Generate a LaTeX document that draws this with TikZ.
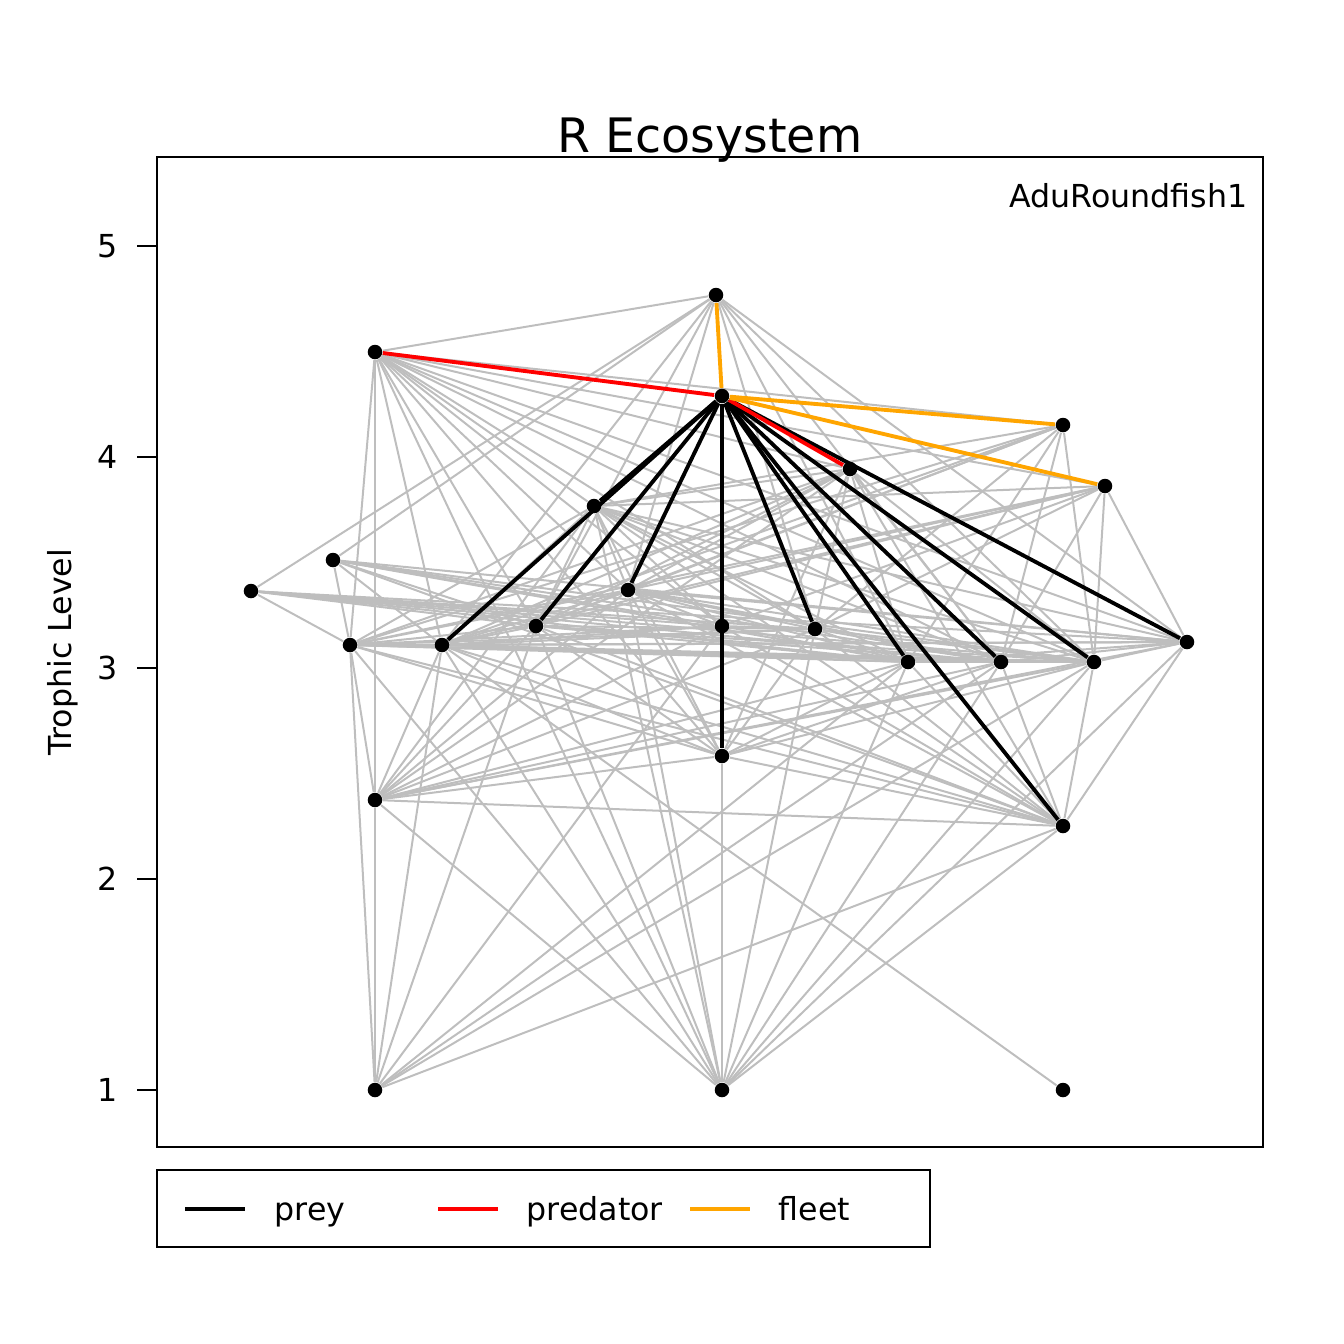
\documentclass[tikz,border=0pt]{standalone}
\usepackage{fontspec}
\setmainfont{DejaVu Sans}
\pgfdeclarelayer{bg}
\pgfsetlayers{bg,main}
\definecolor{rgray}{HTML}{BEBEBE}
\definecolor{rorange}{HTML}{FFA500}
\definecolor{rred}{HTML}{FF0000}
\tikzset{
  dot/.style={circle,fill=black,inner sep=0pt,minimum size=0.145cm},
  grayedge/.style={draw=rgray,line width=0.57pt},
  preyedge/.style={draw=black,line width=1.1pt},
  prededge/.style={draw=rred,line width=1.1pt},
  fleetedge/.style={draw=rorange,line width=1.1pt},
  frame/.style={draw=black,line width=0.6pt},
  lab/.style={font=\fontsize{9}{11}\selectfont,inner sep=0pt}
}
\begin{document}
\begin{tikzpicture}[x=0.01cm,y=-0.01cm]
\useasboundingbox (0,0) rectangle (1344,1344);
% nodes
\node[dot] (A) at (716,295) {};
\node[dot] (B) at (375,352) {};
\node[dot] (C) at (722,396) {};
\node[dot] (D) at (1063,425) {};
\node[dot] (E) at (850,469) {};
\node[dot] (F) at (1105,486) {};
\node[dot] (G) at (594,506) {};
\node[dot] (H) at (333,560) {};
\node[dot] (I) at (251,591) {};
\node[dot] (J) at (628,590) {};
\node[dot] (K) at (536,626) {};
\node[dot] (L) at (722,626) {};
\node[dot] (M) at (815,629) {};
\node[dot] (N) at (350,645) {};
\node[dot] (O) at (442,645) {};
\node[dot] (P) at (1187,642) {};
\node[dot] (Q) at (908,662) {};
\node[dot] (R) at (1001,662) {};
\node[dot] (S) at (1094,662) {};
\node[dot] (T) at (722,756) {};
\node[dot] (U) at (375,800) {};
\node[dot] (V) at (1063,826) {};
\node[dot] (W) at (375,1090) {};
\node[dot] (X) at (722,1090) {};
\node[dot] (Y) at (1063,1090) {};
\begin{pgfonlayer}{bg}
\foreach \a/\b in {A/B,A/I,A/H,A/O,A/K,A/J,A/M,A/Q,A/R,A/S,A/P,
  B/N,B/U,B/O,B/X,B/K,B/T,B/J,B/L,B/M,B/R,B/S,B/P,B/E,B/F,B/D,B/G,
  D/G,D/J,D/O,D/N,D/K,D/R,D/S,D/M,D/Q,
  F/G,F/J,F/K,F/O,F/N,F/L,F/M,F/P,F/S,F/R,
  E/G,E/J,E/K,E/O,E/N,E/M,E/Q,E/R,E/S,E/T,E/U,E/V,
  G/N,G/O,G/K,G/J,G/L,G/M,G/Q,G/R,G/S,G/P,G/T,G/U,G/V,G/X,
  H/N,H/O,H/K,H/L,H/Q,H/R,H/S,H/P,H/V,
  I/N,I/K,I/L,I/M,I/Q,I/R,I/S,I/P,
  J/O,J/N,J/K,J/L,J/M,J/Q,J/R,J/S,J/P,J/T,J/U,J/V,J/X,
  K/T,K/U,K/V,K/X,K/W,K/M,K/Q,K/R,K/S,K/N,K/O,
  L/T,L/U,L/V,L/W,L/M,L/Q,L/N,L/O,
  M/T,M/U,M/V,M/X,M/Q,M/R,M/S,M/N,M/O,
  N/O,N/Q,N/R,N/S,N/P,N/U,N/V,N/W,N/X,N/T,
  O/Q,O/R,O/S,O/P,O/U,O/V,O/W,O/X,O/Y,O/T,
  P/S,P/V,P/X,P/Q,P/R,P/U,
  Q/T,Q/U,Q/V,Q/W,Q/X,Q/R,Q/S,
  R/T,R/U,R/V,R/W,R/X,R/S,
  S/T,S/U,S/V,S/W,S/X,
  T/X,T/U,T/V,U/W,U/X,U/V,V/W,V/X}
  \draw[grayedge] (\a) -- (\b);
\foreach \b in {G,O,K,J,L,T,M,Q,R,S,V,P}
  \draw[preyedge] (C) -- (\b);
\draw[prededge] (B) -- (C);
\draw[prededge] (C) -- (E);
\draw[fleetedge] (A) -- (C);
\draw[fleetedge] (C) -- (D);
\draw[fleetedge] (C) -- (F);
\end{pgfonlayer}
% frame and axis
\draw[frame] (157,157) rectangle (1263,1147);
\foreach \v/\yy in {1/1090,2/879,3/668,4/457,5/246}{
  \draw[frame] (137,\yy) -- (157,\yy);
  \node[lab] (t\v) at (108,\yy) {\v};
}
\node[lab,rotate=90] (ylab) at (63,652) {Trophic Level};
\node[font=\fontsize{13.5}{16}\selectfont,inner sep=0pt,anchor=base] (title) at (710,152) {R Ecosystem};
\node[lab,anchor=base east] (focal) at (1248,207) {AduRoundfish1};
% legend
\draw[frame] (157,1170) rectangle (930,1247);
\coordinate (l1a) at (185,1209); \coordinate (l1b) at (245,1209);
\coordinate (l2a) at (438,1209); \coordinate (l2b) at (498,1209);
\coordinate (l3a) at (690,1209); \coordinate (l3b) at (750,1209);
\draw[preyedge] (l1a) -- (l1b);
\draw[prededge] (l2a) -- (l2b);
\draw[fleetedge] (l3a) -- (l3b);
\node[lab,anchor=base west] (lg1) at (274,1220) {prey};
\node[lab,anchor=base west] (lg2) at (526,1220) {predator};
\node[lab,anchor=base west] (lg3) at (778,1220) {fleet};
\end{tikzpicture}
\end{document}
